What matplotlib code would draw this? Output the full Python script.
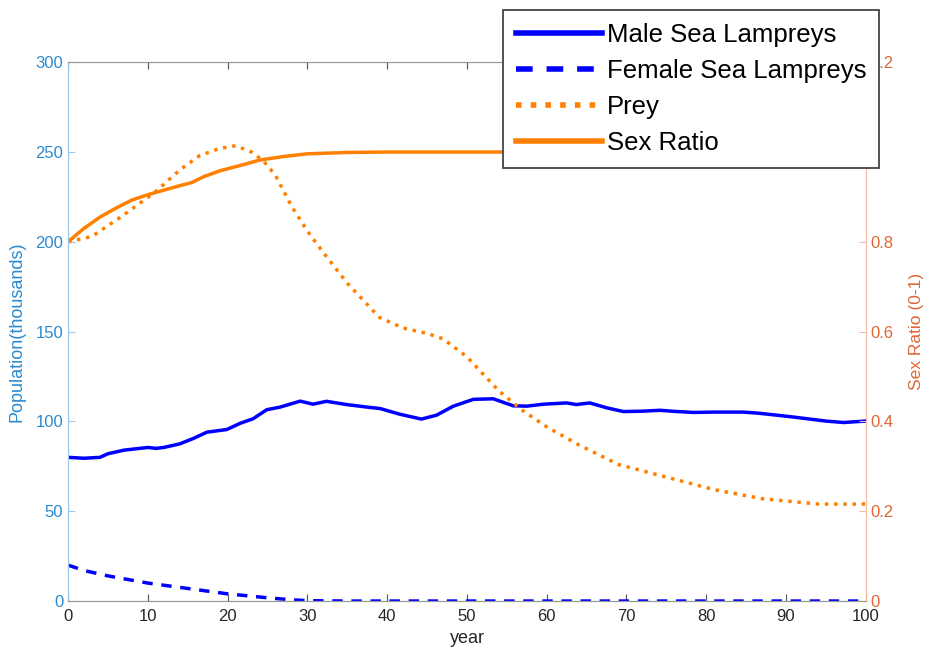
import numpy as np
import matplotlib
matplotlib.use("Agg")
import matplotlib.pyplot as plt
from matplotlib.ticker import FuncFormatter

plt.rcParams['font.family'] = ['Liberation Sans', 'DejaVu Sans']

# male sea lampreys (thousands)
male_years = [0, 2, 4, 5, 7, 9, 10, 11, 12, 14, 15.7, 17.4, 19.9, 21.6, 23.2, 24.9,
              26.6, 29.1, 30.7, 32.4, 34.9, 37.8, 39.1, 41.6, 44.3, 46.2, 48.3, 50.8,
              53.3, 55.8, 57.5, 59.6, 62.5, 63.7, 65.4, 67.5, 69.6, 72, 74.2, 76,
              78.4, 81, 84.6, 86.5, 88.8, 91, 93, 95, 97.2, 100]
male_vals = [80, 79.5, 80, 82, 84, 85, 85.5, 85, 85.5, 87.5, 90.5, 94, 95.5, 99, 101.5,
             106.5, 108, 111.3, 109.6, 111.2, 109.4, 107.8, 107.2, 104, 101.3, 103.5,
             108.5, 112.3, 112.6, 108.7, 108.5, 109.6, 110.3, 109.4, 110.3, 107.6,
             105.5, 105.7, 106.2, 105.6, 105, 105.2, 105.2, 104.6, 103.5, 102.4,
             101.3, 100.2, 99.4, 100.2]

# female sea lampreys (thousands)
female_years = [0, 2, 5, 10, 15, 20, 25, 28, 30, 35, 100]
female_vals = [20, 17, 14, 10, 7, 4, 1.8, 0.7, 0.2, 0, 0]

# prey (thousands)
prey_years = [0, 3, 7, 11, 14, 16.5, 19, 21, 23, 24.5, 26, 28, 30, 32, 35, 39, 42,
              45, 47, 50, 54, 57, 60, 64, 69, 75, 81, 87, 94, 100]
prey_vals = [200, 203, 215, 228, 240, 248, 252, 253.5, 250, 245, 237, 220, 206, 194,
             177, 158, 152, 149, 146, 136, 117, 106, 97, 87, 76, 69, 62, 57, 54, 54]

# sex ratio (0-1)
ratio_years = [0, 2, 4, 6, 8, 10, 12, 14, 15.5, 17, 19, 22, 24, 27, 30, 35, 40, 100]
ratio_vals = [0.80, 0.83, 0.855, 0.875, 0.893, 0.905, 0.915, 0.925, 0.932, 0.945,
              0.958, 0.972, 0.982, 0.99, 0.996, 0.999, 1.0, 1.0]

left_col = '#2a8ad0'
right_col = '#dd6633'
blue = '#0000ff'
orange = '#ff8000'

fig = plt.figure(figsize=(9.27, 6.55), dpi=100)
ax = fig.add_axes([0.0734, 0.0824, 0.8606, 0.8226])
ax2 = ax.twinx()

l1, = ax.plot(male_years, male_vals, color=blue, lw=2.5, label='Male Sea Lampreys')
l2, = ax.plot(female_years, female_vals, color=blue, lw=2.5, dashes=(3, 2.5),
              label='Female Sea Lampreys')
l3, = ax.plot(prey_years, prey_vals, color=orange, lw=2.5, linestyle=':', label='Prey')
l4, = ax2.plot(ratio_years, ratio_vals, color=orange, lw=2.5, label='Sex Ratio')

ax.set_xlim(0, 100)
ax.set_ylim(0, 300)
ax2.set_ylim(0, 1.2)
ax.set_xticks(np.arange(0, 101, 10))
ax.set_yticks(np.arange(0, 301, 50))
ax2.set_yticks([0, 0.2, 0.4, 0.6, 0.8, 1.0, 1.2])
ax2.yaxis.set_major_formatter(FuncFormatter(lambda v, p: '%g' % v))

for a in (ax, ax2):
    a.spines['top'].set_color('#999999')
    a.spines['bottom'].set_color('#999999')
    a.spines['left'].set_color('#9cc8ea')
    a.spines['right'].set_color('#f2bca6')

ax.tick_params(axis='x', direction='in', length=5, color='#555555', labelcolor='#262626',
               labelsize=12, top=True, pad=6)
ax.tick_params(axis='y', direction='in', length=5, color='#9cc8ea', labelcolor=left_col,
               labelsize=12)
ax2.tick_params(axis='y', direction='in', length=5, color='#f2bca6', labelcolor=right_col,
                labelsize=12)

ax.set_xlabel('year', fontsize=13, color='#262626')
ax.set_ylabel('Population(thousands)', fontsize=13, color=left_col, labelpad=7)
ax2.set_ylabel('Sex Ratio (0-1)', fontsize=12.5, color=right_col, labelpad=11)

leg = fig.legend([l1, l2, l3, l4], [h.get_label() for h in (l1, l2, l3, l4)],
                 loc='upper left', bbox_to_anchor=(0.5426, 0.9847), fontsize=18.5,
                 frameon=True, fancybox=False, framealpha=1, edgecolor='#444444',
                 handlelength=3.35, handletextpad=0.2, labelspacing=0.47,
                 borderpad=0.5, borderaxespad=0)
leg.get_frame().set_linewidth(1.3)
for h in leg.get_lines():
    h.set_linewidth(4)

fig.savefig('out.png', dpi=100)
